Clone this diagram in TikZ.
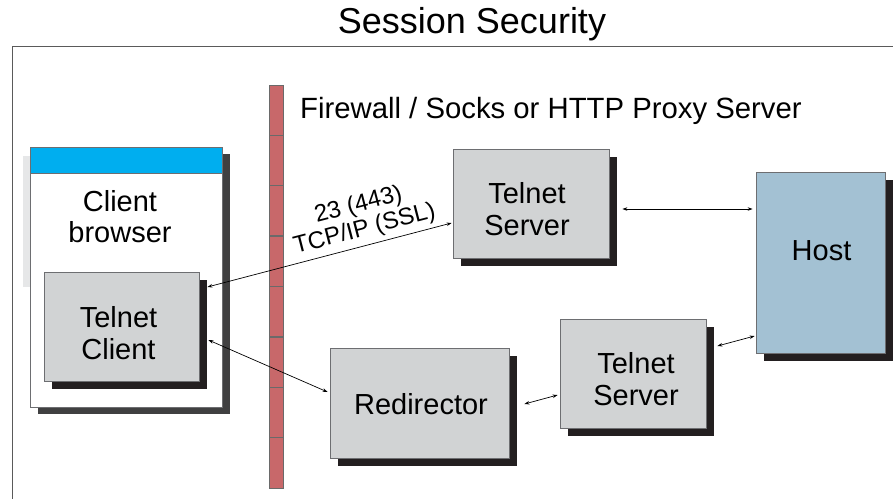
\documentclass[tikz,border=0pt]{standalone}
\usepackage{fontspec}
\setmainfont{Liberation Sans}
\usetikzlibrary{arrows.meta,calc,shadows}

\definecolor{boxgray}{HTML}{D1D3D4}
\definecolor{edgegray}{HTML}{6D6E71}
\definecolor{shadowblack}{HTML}{231F20}
\definecolor{shadowdark}{HTML}{404041}
\definecolor{barblue}{HTML}{00AEEF}
\definecolor{hostblue}{HTML}{A3C1D3}
\definecolor{brick}{HTML}{C8686A}
\definecolor{mortar}{HTML}{6A6A6A}
\definecolor{framegray}{HTML}{5A5A5A}
\definecolor{paleside}{HTML}{E6E7E8}

\begin{document}
\begin{tikzpicture}[x=1pt,y=-1pt,
  box/.style={rectangle, draw=edgegray, line width=0.8pt, fill=boxgray, inner sep=0pt},
  blackshadow/.style={drop shadow={shadow xshift=8pt, shadow yshift=-7.5pt, fill=shadowblack, opacity=1}},
  darkshadow/.style={drop shadow={shadow xshift=8pt, shadow yshift=-7pt, fill=shadowdark, opacity=1}},
  lbl/.style={inner sep=0pt, align=center, font=\fontsize{29}{32}\selectfont},
  tag/.style={inner sep=0pt, align=center, rotate=14.5, font=\fontsize{24}{25}\selectfont},
  link/.style={{Stealth[length=5pt,width=3.5pt]}-{Stealth[length=5pt,width=3.5pt]}, line width=0.7pt, black},
  mortarline/.style={draw=mortar, line width=1.4pt}
]
\useasboundingbox (0,0) rectangle (893,499);

% heading and page frame
\node[inner sep=0pt, anchor=base, font=\fontsize{36}{40}\selectfont] (title) at (472,33.3) {Session Security};
\draw[framegray, line width=1pt] (893,46.7) -- (12,46.7) -- (12,499);

% client side: browser window holding the telnet client
\fill[paleside] (23,156) rectangle (30,287);
\node[rectangle, draw=edgegray, line width=0.8pt, fill=white, inner sep=0pt,
      minimum width=192pt, minimum height=260pt, darkshadow] (browser) at (126,277) {};
\node[rectangle, draw=edgegray, line width=0.8pt, fill=barblue, inner sep=0pt,
      minimum width=192pt, minimum height=26pt, anchor=north] (bar) at (browser.north) {};
\node[lbl] (browsertext) at (120,217) {Client\\[-1pt]browser};

\node[box, blackshadow, minimum width=155pt, minimum height=109pt] (tc) at (121.5,326.5) {};
\node[lbl] (tctext) at (118.5,333.5) {Telnet\\Client};

% firewall column: bricks, then the mortar joints on top
\fill[brick] (269,85) rectangle (283,488);
\draw[draw=mortar, line width=0.8pt] (269,85) rectangle (283,488);
\foreach \i in {1,...,7}
  \draw[mortarline] (269,{85+\i*50.375}) -- (283,{85+\i*50.375});
\node[inner sep=0pt, anchor=base west, font=\fontsize{29.3}{32}\selectfont] (fwtext) at (300,118.3)
  {Firewall / Socks or HTTP Proxy Server};

% servers, redirector and host
\node[box, blackshadow, minimum width=156pt, minimum height=109pt] (ts1) at (531,203.5) {};
\node[lbl] (ts1text) at (527,209) {Telnet\\Server};

\node[box, blackshadow, minimum width=179pt, minimum height=110pt] (redir) at (419.5,403) {};
\node[lbl] (redirtext) at (421,404) {Redirector};

\node[box, blackshadow, minimum width=146pt, minimum height=109pt] (ts2) at (633,373.5) {};
\node[lbl] (ts2text) at (636,379.5) {Telnet\\Server};

\node[box, blackshadow, fill=hostblue, minimum width=129pt, minimum height=181pt] (host) at (820.5,262.5) {};
\node[lbl] (hosttext) at (821.5,251) {Host};

% connections
\draw[link] ($(ts1.west)+(-1,19.5)$) -- ($(tc.east)+(8,-39.5)$);
\draw[link] ($(tc.east)+(9,13.5)$) -- ($(redir.west)+(-2,-11)$);
\draw[link] ($(ts1.east)+(13,5.5)$) -- ($(host.west)+(-3,-53.5)$);
\draw[link] ($(redir.east)+(15,1)$) -- ($(ts2.west)+(-2,21.5)$);
\draw[link] ($(ts2.east)+(11,-27.5)$) -- ($(host.west)+(-1,73.5)$);

% port / protocol label on the direct connection
\node[tag] (porttext) at (361.6,217.5) {23 (443)\\TCP/IP (SSL)};
\end{tikzpicture}
\end{document}
